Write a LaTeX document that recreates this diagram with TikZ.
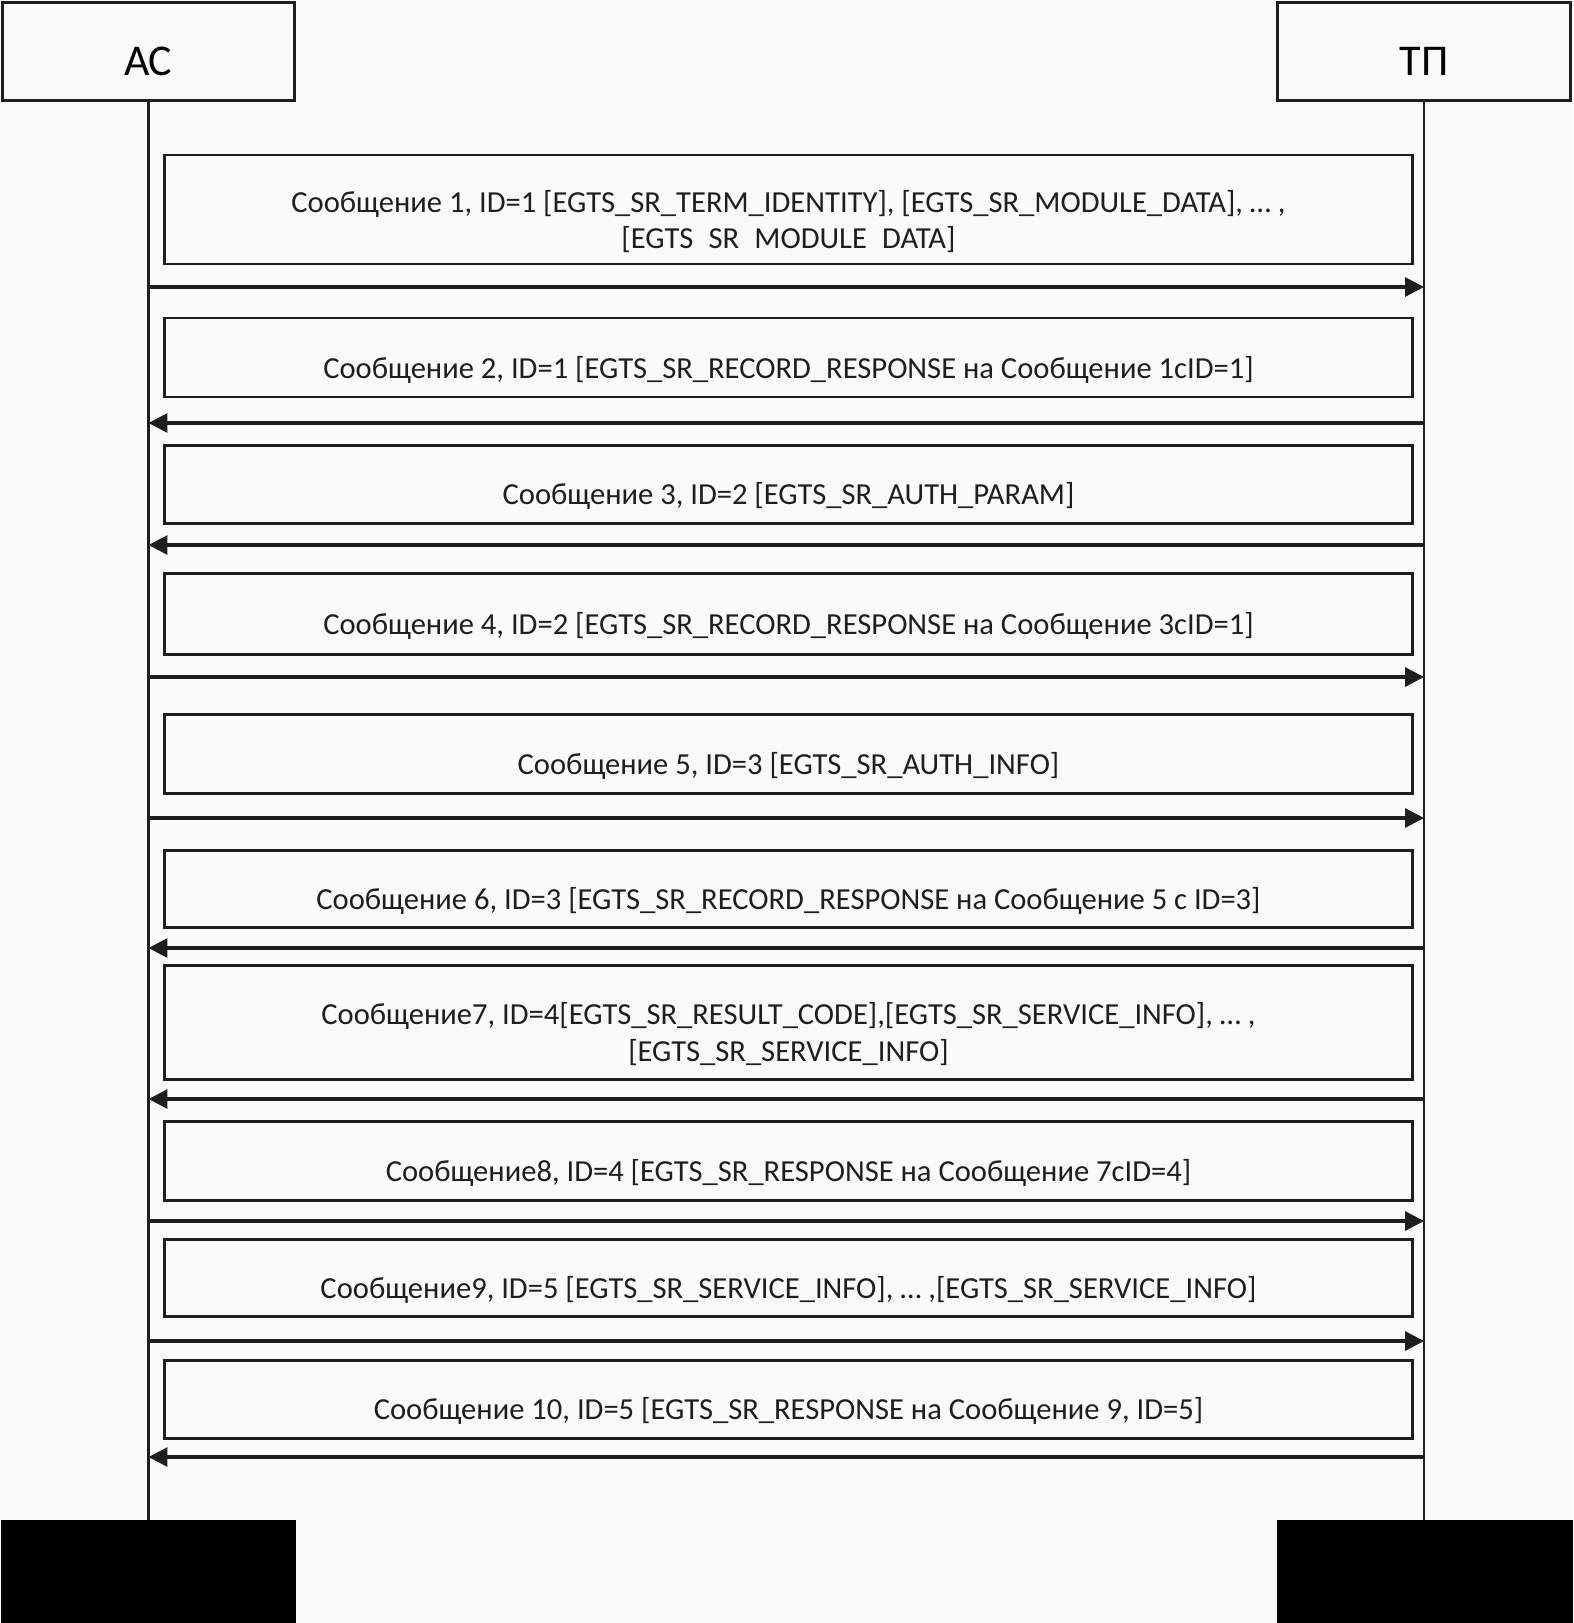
\documentclass[tikz,border=0pt]{standalone}
\usepackage{fontspec}
\setmainfont{Carlito}
\usetikzlibrary{arrows.meta, positioning, calc}
\definecolor{bgPaper}{HTML}{FAFAFA}
\definecolor{lineDark}{HTML}{1E1E1E}

\begin{document}
\begin{tikzpicture}[x=0.02cm, y=-0.02cm,
    every node/.style={font=\fontsize{17.4}{21}\selectfont},
    head/.style={draw=lineDark, line width=1.7pt, fill=bgPaper, minimum width=5.86cm,
      minimum height=1.98cm, text height=0.95cm, text depth=0pt,
      font=\fontsize{25}{28}\selectfont},
    foot/.style={fill=black, minimum width=5.92cm, minimum height=2.06cm},
    msgbox/.style={draw=lineDark, line width=1.7pt, minimum width=24.98cm},
    msgtext/.style={align=center, text=lineDark},
    msgarrow/.style={draw=lineDark, line width=1.8pt, -{Triangle[length=0.38cm, width=0.38cm]}},
    lifeline/.style={draw=lineDark, line width=1.5pt}]
    \fill[bgPaper] (0,0) rectangle (1573,1623);
    \node[head] (ac) at (148.5,51.5) {АС};
    \node[head] (tp) at (1424,51.5) {ТП};
    \node[foot] (acend) at (148.5,1571.5) {};
    \node[foot] (tpend) at (1425,1571.5) {};
    \draw[lifeline] (ac.south) -- (ac.south |- acend.north);
    \draw[lifeline] (tp.south) -- (tp.south |- tpend.north);
    \foreach \i/\yt/\yb/\ay/\src/\dst/\txt in {
      1/155/264/287/a/b/{Сообщение 1, ID=1 [EGTS\_SR\_TERM\_IDENTITY], [EGTS\_SR\_MODULE\_DATA], … ,\\ {[EGTS\hphantom{\_}SR\hphantom{\_}MODULE\hphantom{\_}DATA]}},
      2/318/397/423/b/a/{Сообщение 2, ID=1 [EGTS\_SR\_RECORD\_RESPONSE на Сообщение 1cID=1]},
      3/445/523/545/b/a/{Сообщение 3, ID=2 [EGTS\_SR\_AUTH\_PARAM]},
      4/573/654/677/a/b/{Сообщение 4, ID=2 [EGTS\_SR\_RECORD\_RESPONSE на Сообщение 3cID=1]},
      5/714/793/818/a/b/{Сообщение 5, ID=3 [EGTS\_SR\_AUTH\_INFO]},
      6/850/927/948/b/a/{Сообщение 6, ID=3 [EGTS\_SR\_RECORD\_RESPONSE на Сообщение 5 с ID=3]},
      7/965/1079/1099/b/a/{Сообщение7, ID=4[EGTS\_SR\_RESULT\_CODE],[EGTS\_SR\_SERVICE\_INFO], … ,\\ {[EGTS\_SR\_SERVICE\_INFO]}},
      8/1121/1200/1221/a/b/{Сообщение8, ID=4 [EGTS\_SR\_RESPONSE на Сообщение 7cID=4]},
      9/1239/1316/1341/a/b/{Сообщение9, ID=5 [EGTS\_SR\_SERVICE\_INFO], … ,[EGTS\_SR\_SERVICE\_INFO]},
      10/1360/1438/1457/b/a/{Сообщение 10, ID=5 [EGTS\_SR\_RESPONSE на Сообщение 9, ID=5]}}{
      \node[msgbox, minimum height={(\yb-\yt)*0.02cm}] (m\i) at (788.5,{(\yt+\yb)/2}) {};
      \node[msgtext] (t\i) at ([yshift=-0.24cm]m\i.center) {\txt};
      \coordinate (a\i) at (148.5,\ay);
      \coordinate (b\i) at (1424,\ay);
      \draw[msgarrow] (\src\i) -- (\dst\i);
    }
  \end{tikzpicture}
\end{document}
